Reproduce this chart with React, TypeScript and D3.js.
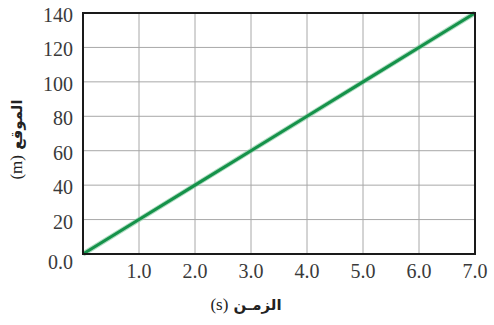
import React, { useEffect, useRef } from 'react';
import * as d3 from 'd3';

// data
const timeValues = [0, 1, 2, 3, 4, 5, 6, 7];
const positionValues = [0, 20, 40, 60, 80, 100, 120, 140];
const xTicks = [1, 2, 3, 4, 5, 6, 7];
const yTicks = [0, 20, 40, 60, 80, 100, 120, 140];
const xTitle = 'الزمـن';
const yTitle = 'الموقع';

const SERIF = "'Liberation Serif', 'Times New Roman', 'DejaVu Serif', serif";

const App: React.FC = () => {
  const svgRef = useRef<SVGSVGElement>(null);
  const width = 494;
  const height = 325;

  useEffect(() => {
    if (!svgRef.current) return;
    const svg = d3.select(svgRef.current);
    svg.selectAll('*').remove();

    const margin = { top: 13, right: 19, bottom: 71, left: 83 };

    const x = d3.scaleLinear().domain([0, 7]).range([margin.left, width - margin.right]);
    const y = d3.scaleLinear().domain([0, 140]).range([height - margin.bottom, margin.top]);

    svg.append('rect').attr('width', width).attr('height', height).attr('fill', '#fff');

    // grid
    svg.append('g')
      .selectAll('line')
      .data(xTicks)
      .join('line')
      .attr('x1', d => x(d)).attr('x2', d => x(d))
      .attr('y1', y(0)).attr('y2', y(140))
      .attr('stroke', '#a8a8a8').attr('stroke-width', 1);

    svg.append('g')
      .selectAll('line')
      .data(yTicks)
      .join('line')
      .attr('x1', x(0)).attr('x2', x(7))
      .attr('y1', d => y(d)).attr('y2', d => y(d))
      .attr('stroke', '#a8a8a8').attr('stroke-width', 1);

    // line
    const line = d3.line<number>()
      .x((_, i) => x(timeValues[i]))
      .y(d => y(d));

    svg.append('path')
      .datum(positionValues)
      .attr('d', line)
      .attr('fill', 'none')
      .attr('stroke', '#7cc79a')
      .attr('stroke-width', 5)
      .attr('opacity', 0.6);

    svg.append('path')
      .datum(positionValues)
      .attr('d', line)
      .attr('fill', 'none')
      .attr('stroke', '#15924a')
      .attr('stroke-width', 3);

    // frame
    svg.append('rect')
      .attr('x', x(0)).attr('y', y(140))
      .attr('width', x(7) - x(0)).attr('height', y(0) - y(140))
      .attr('fill', 'none')
      .attr('stroke', '#1a1a1a')
      .attr('stroke-width', 2);

    // tick labels
    svg.append('g')
      .selectAll('text')
      .data(yTicks)
      .join('text')
      .attr('x', x(0) - 10)
      .attr('y', d => (d === 0 ? y(d) + 8 : y(d) + 2))
      .attr('dy', '0.35em')
      .attr('text-anchor', 'end')
      .attr('font-family', SERIF)
      .attr('font-size', 20)
      .attr('fill', '#3a3a3a')
      .text(d => (d === 0 ? '0.0' : String(d)));

    svg.append('g')
      .selectAll('text')
      .data(xTicks)
      .join('text')
      .attr('x', d => x(d))
      .attr('y', y(0) + 24)
      .attr('text-anchor', 'middle')
      .attr('font-family', SERIF)
      .attr('font-size', 20)
      .attr('fill', '#3a3a3a')
      .text(d => d.toFixed(1));

    // axis titles
    const xt = svg.append('text')
      .attr('x', (x(0) + x(7)) / 2 - 33)
      .attr('y', 310)
      .attr('text-anchor', 'middle')
      .attr('direction', 'rtl')
      .attr('font-family', "'DejaVu Sans', sans-serif")
      .attr('font-weight', 'bold')
      .attr('font-size', 15)
      .attr('fill', '#222');
    xt.append('tspan').text(xTitle + ' ');
    xt.append('tspan')
      .attr('font-family', SERIF)
      .attr('font-weight', 'normal')
      .attr('font-size', 17)
      .text('(s)');

    const yt = svg.append('text')
      .attr('transform', `translate(22, ${(y(0) + y(140)) / 2 + 6}) rotate(-90)`)
      .attr('text-anchor', 'middle')
      .attr('direction', 'rtl')
      .attr('font-family', "'DejaVu Sans', sans-serif")
      .attr('font-weight', 'bold')
      .attr('font-size', 15)
      .attr('fill', '#222');
    yt.append('tspan').text(yTitle + ' ');
    yt.append('tspan')
      .attr('font-family', SERIF)
      .attr('font-weight', 'normal')
      .attr('font-size', 17)
      .text('(m)');
  }, []);

  return (
    <svg
      ref={svgRef}
      width={width}
      height={height}
      style={{ position: 'absolute', left: 0, top: 0 }}
    />
  );
};

export default App;
